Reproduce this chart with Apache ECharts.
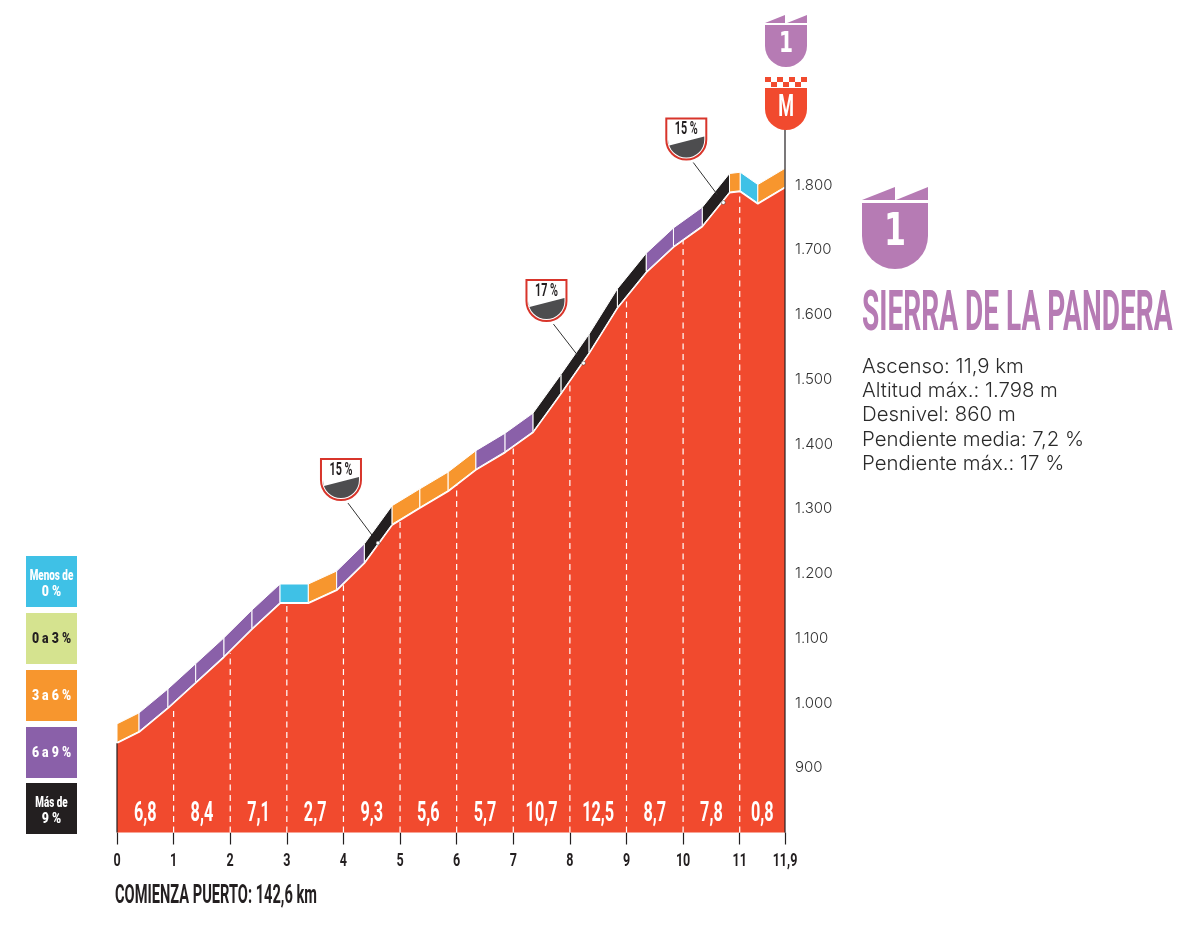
<!DOCTYPE html>
<html><head><meta charset="utf-8">
<style>html,body{margin:0;padding:0;background:#fff}#c{width:1200px;height:930px}</style>
<script src="https://cdn.jsdelivr.net/npm/echarts@6/dist/echarts.min.js"></script>
</head><body><div id="c"></div>
<script>
// ---- data ----
const profileKm  = [0,0.39,0.9,1.39,1.89,2.385,2.88,3.38,3.88,4.37,4.86,5.35,5.85,6.34,6.855,7.35,7.845,8.34,8.84,9.35,9.83,10.34,10.82,11.01,11.32,11.8];
const profileAlt = [938,955,992,1031,1071,1114,1154,1154,1174,1216,1275,1301,1327,1360,1387,1418,1478,1540,1610,1665,1704,1736,1788,1790,1771,1796];
const stripClass = ['o','p','p','p','p','p','b','o','p','k','o','o','o','p','p','k','k','k','k','p','p','k','o','b','o'];
const dashKm  = [1,2,3,4,5,6,7,8,9,10,11];
const dashAlt = [994,1077,1154,1182,1284,1337,1401,1501,1636,1716,1790];
const gradientKm = [0.5,1.5,2.5,3.5,4.5,5.5,6.5,7.5,8.5,9.5,10.5,11.4];
const gradientTx = ['6,8','8,4','7,1','2,7','9,3','5,6','5,7','10,7','12,5','8,7','7,8','0,8'];
const xTicks = [0,1,2,3,4,5,6,7,8,9,10,11,11.8];
const xTickLabels = ['0','1','2','3','4','5','6','7','8','9','10','11','11,9'];
const yTicks = [900,1000,1100,1200,1300,1400,1500,1600,1700,1800];
const yTickLabels = ['900','1.000','1.100','1.200','1.300','1.400','1.500','1.600','1.700','1.800'];
const callKm  = [4.61,8.24,10.71];
const callAlt = [1247,1525,1773];
const callTx  = ['15 %','17 %','15 %'];
const legendTx = [['Menos de','0 %'],['0 a 3 %'],['3 a 6 %'],['6 a 9 %'],['Más de','9 %']];
const statLines = ['Ascenso: 11,9 km','Altitud máx.: 1.798 m','Desnivel: 860 m','Pendiente media: 7,2 %','Pendiente máx.: 17 %'];

const RED='#F14A2E', PUR='#B67BB4', INK='#231F20';
const CLS={b:'#3FC1E6',g:'#D5E38F',o:'#F7962E',p:'#8A60A9',k:'#231F20'};
const NARROW='Roboto';

function txt(x,y,text,size,fill,sx,align,weight,family){
  return {type:'text',x:x,y:y,scaleX:sx||1,z2:30,silent:true,
    style:{text:text,x:0,y:0,fill:fill,fontSize:size,fontFamily:family||NARROW,fontWeight:weight||700,
           align:align||'center',verticalAlign:'middle'}};
}
function shield(x,y,w,h,fill,stroke){
  const r=w/2;
  return {type:'path',x:x,y:y,z2:20,silent:true,
    shape:{pathData:`M0,0 H${w} V${h-r} A${r},${r} 0 0 1 0,${h-r} Z`},
    style:{fill:fill,stroke:stroke||null,lineWidth:stroke?2:0}};
}
function poly(pts,fill,z){return {type:'polygon',z2:z||20,silent:true,shape:{points:pts},style:{fill:fill}};}

const stripData = stripClass.map((c,i)=>[profileKm[i],profileAlt[i],profileKm[i+1],profileAlt[i+1],i]);
const STRIP=18.5;

const renderStrip=(p,api)=>{
  const a=api.coord([api.value(0),api.value(1)]), b=api.coord([api.value(2),api.value(3)]);
  const c=CLS[stripClass[api.value(4)]];
  return {type:'polygon',shape:{points:[[a[0],a[1]-0.8],[b[0],b[1]-0.8],[b[0],b[1]-STRIP-0.8],[a[0],a[1]-STRIP-0.8]]},
    style:{fill:c,stroke:'#fff',lineWidth:1}};
};
const renderDash=(p,api)=>{
  const a=api.coord([api.value(0),800]), b=api.coord([api.value(0),api.value(1)]);
  return {type:'line',shape:{x1:a[0],y1:a[1],x2:b[0],y2:b[1]},
    style:{stroke:'#fff',lineWidth:1.2,lineDash:[6,4.5]}};
};
const renderGrad=(p,api)=>{
  const a=api.coord([api.value(0),832]);
  return txt(a[0],a[1]+2,gradientTx[p.dataIndex],28,'#fff',0.58);
};
const renderXLabel=(p,api)=>{
  const a=api.coord([api.value(0),800]);
  return txt(a[0],a[1]+29,xTickLabels[p.dataIndex],19,INK,0.66);
};
const renderCall=(p,api)=>{
  const a=api.coord([api.value(0),api.value(1)]);
  const o=[[-57,-84],[-57,-83],[-57,-84]][p.dataIndex];
  const bx=a[0]+o[0], by=a[1]+o[1];
  return {type:'group',children:[
    {type:'line',z2:21,shape:{x1:bx+27,y1:by+44,x2:a[0]-6,y2:a[1]-8},style:{stroke:'#333',lineWidth:1}},
    {type:'circle',z2:22,shape:{cx:a[0],cy:a[1],r:2},style:{fill:'#fff',stroke:'#333',lineWidth:0.5}},
    {type:'group',x:bx,y:by,children:[
      shield(0,0,40,41,'#fff','#D8352B'),
      {type:'path',z2:25,shape:{pathData:'M3,27 L38,18 V21 A18,18 0 0 1 2,21 Z'},style:{fill:'#4D4D4F'}},
      txt(20,11,callTx[p.dataIndex],18,INK,0.6)
    ]}
  ]};
};
const renderDecor=(p,api)=>{
  const els=[];
  const l0=api.coord([0,800]), l1=api.coord([0,profileAlt[0]]), r0=api.coord([11.8,800]);
  els.push({type:'line',shape:{x1:l0[0],y1:l0[1],x2:l1[0],y2:l1[1]},style:{stroke:INK,lineWidth:1.2}});
  els.push({type:'line',shape:{x1:r0[0],y1:r0[1],x2:r0[0],y2:128},style:{stroke:INK,lineWidth:1.2}});
  els.push(poly([[765,23],[785,15],[785,23]],PUR),poly([[787,23],[807,15],[807,23]],PUR));
  els.push(shield(765,25,42,42,PUR));
  els.push(txt(786,45,'1',28,'#fff',0.72,'center',700,'DejaVu Sans'));
  for(let i=0;i<7;i++){
    els.push({type:'rect',z2:20,shape:{x:765+i*6,y:i%2?82:77,width:6,height:5},style:{fill:RED}});
  }
  els.push(shield(765,88,42,42,RED));
  els.push(txt(786,108,'M',31,'#fff',0.58));
  els.push(poly([[862,200],[895,187],[895,200]],PUR),poly([[896,200],[928,187],[928,200]],PUR));
  els.push(shield(862,203,66,66,PUR));
  els.push(txt(895,234,'1',44,'#fff',0.72,'center',700,'DejaVu Sans'));
  els.push(txt(862,316,'SIERRA DE LA PANDERA',55,PUR,0.51,'left'));
  statLines.forEach((s,i)=>els.push(txt(862,367+i*24.2,s,20,'#2b2b2b',1.02,'left',300,'Inter')));
  const ly=[556,613,670,727,783], lc=['b','g','o','p','k'];
  legendTx.forEach((t,i)=>{
    els.push({type:'rect',z2:20,shape:{x:26,y:ly[i],width:51,height:51},style:{fill:CLS[lc[i]]}});
    const col=i===1?INK:'#fff';
    if(t.length===2){els.push(txt(51.5,ly[i]+20,t[0],14.5,col,0.68,'center',900),txt(51.5,ly[i]+36,t[1],14.5,col,0.85,'center',900));}
    else els.push(txt(51.5,ly[i]+26,t[0],14.5,col,0.85,'center',900));
  });
  els.push(txt(115,897,'COMIENZA PUERTO: 142,6 km',25,INK,0.585,'left'));
  return {type:'group',children:els};
};

const chart=echarts.init(document.getElementById('c'),null,{renderer:'canvas'});
chart.setOption({
  animation:false,backgroundColor:'#fff',
  grid:{left:117,width:668,top:120.3,height:712.2,containLabel:false},
  xAxis:{type:'value',min:0,max:11.8,
    axisLine:{show:false},splitLine:{show:false},
    axisTick:{show:true,length:12,lineStyle:{color:INK,width:1.2},customValues:xTicks},
    axisLabel:{show:false}},
  yAxis:{type:'value',min:800,max:1900,interval:100,position:'right',
    axisLine:{show:false},axisTick:{show:false},splitLine:{show:false},
    axisLabel:{margin:10,customValues:yTicks,color:'#333',fontFamily:'Inter',fontWeight:300,fontSize:15,padding:[0,0,2,0],
      formatter:v=>yTickLabels[yTicks.indexOf(v)]}},
  series:[
    {type:'line',data:profileKm.map((k,i)=>[k,profileAlt[i]]),symbol:'none',z:2,
      lineStyle:{color:'#fff',width:1.6},areaStyle:{color:RED,opacity:1}},
    {type:'custom',data:dashKm.map((k,i)=>[k,dashAlt[i]]),renderItem:renderDash,z:3,silent:true,clip:false},
    {type:'custom',data:stripData,renderItem:renderStrip,z:4,silent:true,clip:false,encode:{x:[0,2],y:[1,3]}},
    {type:'custom',data:gradientKm.map(k=>[k,832]),renderItem:renderGrad,z:5,silent:true,clip:false},
    {type:'custom',data:xTicks.map(k=>[k,800]),renderItem:renderXLabel,z:5,silent:true,clip:false},
    {type:'custom',data:[[0,800]],renderItem:renderDecor,z:6,silent:true,clip:false},
    {type:'custom',data:callKm.map((k,i)=>[k,callAlt[i]]),renderItem:renderCall,z:7,silent:true,clip:false}
  ]
});
</script></body></html>
